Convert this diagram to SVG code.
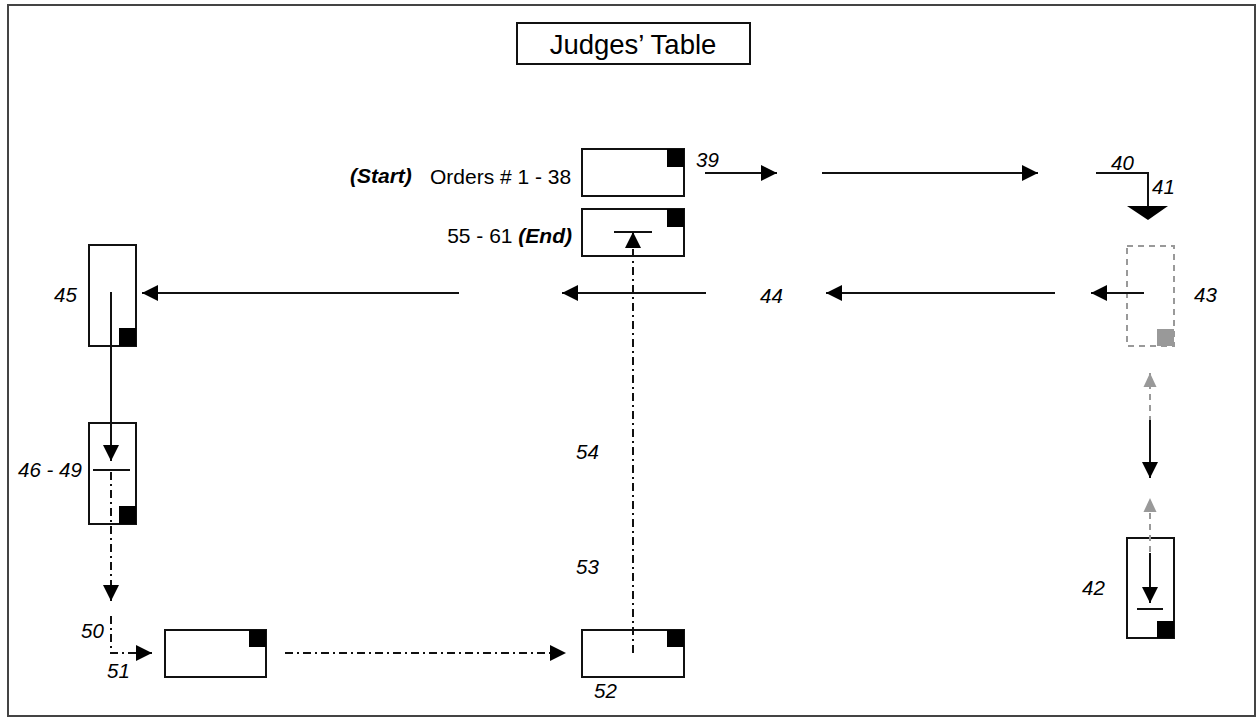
<svg xmlns="http://www.w3.org/2000/svg" width="1257" height="717" viewBox="0 0 1257 717">
<style>
text{font-family:"Liberation Sans",Arial,sans-serif;fill:#000}
.lbl{font-size:20.5px;font-style:italic}
.txt{font-size:21px}
.bi{font-weight:bold;font-style:italic}
.box{fill:#fff;stroke:#111;stroke-width:2}
.sq{fill:#000}
.ln{stroke:#111;stroke-width:2;fill:none}
.dd{stroke:#111;stroke-width:2;fill:none;stroke-dasharray:8 4 2 4}
.gd{stroke:#999;stroke-width:2;fill:none;stroke-dasharray:6 5}
</style>
<defs>
<marker id="ah" markerUnits="userSpaceOnUse" markerWidth="17" markerHeight="17" viewBox="0 0 17 17" refX="16" refY="8.5" orient="auto"><path d="M0,0.5 L16,8.5 L0,16.5 z" fill="#000"/></marker>
<marker id="ag" markerUnits="userSpaceOnUse" markerWidth="16" markerHeight="16" viewBox="0 0 16 16" refX="15" refY="8" orient="auto"><path d="M1,1.5 L15,8 L1,14.5 z" fill="#999"/></marker>
</defs>
<rect x="0" y="0" width="1257" height="717" fill="#fff"/>
<rect id="frame" x="8" y="5" width="1247" height="711" fill="none" stroke="#444" stroke-width="2"/>
<g id="title"><rect class="box" x="517" y="23" width="233" height="41"/><text x="633" y="54" font-size="27.5" text-anchor="middle">Judges’ Table</text></g>
<g id="start"><rect class="box" x="582" y="149" width="102" height="47"/><rect class="sq" x="667" y="149" width="17" height="18"/>
<text class="txt bi" x="350" y="183">(Start)</text><text class="txt" x="430" y="184">Orders # 1 - 38</text></g>
<g id="end"><rect class="box" x="582" y="209" width="102" height="47"/><rect class="sq" x="667" y="209" width="17" height="18"/>
<line class="ln" x1="614" y1="232" x2="652" y2="232"/>
<text class="txt" x="572" y="243" text-anchor="end">55 - 61 <tspan class="bi">(End)</tspan></text></g>
<g id="n43"><rect x="1127" y="246" width="47" height="100" fill="none" stroke="#999" stroke-width="2" stroke-dasharray="6 5"/><rect x="1157" y="329" width="17" height="17" fill="#999"/></g>
<g id="n42"><rect class="box" x="1127" y="538" width="47" height="100"/><rect class="sq" x="1157" y="621" width="17" height="17"/><line class="ln" x1="1137" y1="609" x2="1163" y2="609"/></g>
<g id="n45"><rect class="box" x="89" y="245" width="47" height="101"/><rect class="sq" x="119" y="328" width="17" height="18"/></g>
<g id="n46"><rect class="box" x="89" y="423" width="47" height="101"/><rect class="sq" x="119" y="506" width="17" height="18"/><line class="ln" x1="93" y1="470" x2="130" y2="470"/></g>
<g id="n51"><rect class="box" x="165" y="630" width="101" height="47"/><rect class="sq" x="249" y="630" width="17" height="17"/></g>
<g id="n52"><rect class="box" x="582" y="630" width="102" height="47"/><rect class="sq" x="667" y="630" width="17" height="17"/></g>
<g id="connectors">
<line class="ln" x1="705" y1="173" x2="777" y2="173" marker-end="url(#ah)"/>
<line class="ln" x1="822" y1="173" x2="1038" y2="173" marker-end="url(#ah)"/>
<polyline class="ln" points="1096,173 1148,173 1148,207"/>
<polygon points="1127,206 1168,206 1148,220" fill="#000"/>
<line class="ln" x1="1144" y1="293" x2="1091" y2="293" marker-end="url(#ah)"/>
<line class="ln" x1="1055" y1="293" x2="826" y2="293" marker-end="url(#ah)"/>
<line class="ln" x1="706" y1="293" x2="562" y2="293" marker-end="url(#ah)"/>
<line class="ln" x1="459" y1="293" x2="142" y2="293" marker-end="url(#ah)"/>
<line class="ln" x1="111" y1="292" x2="111" y2="461" marker-end="url(#ah)"/>
<line class="dd" x1="111" y1="472" x2="111" y2="601" marker-end="url(#ah)"/>
<path class="dd" d="M111,616 V653 H152" marker-end="url(#ah)"/>
<line class="dd" x1="285" y1="653" x2="566" y2="653" marker-end="url(#ah)"/>
<line class="dd" x1="633" y1="653" x2="633" y2="232" marker-end="url(#ah)"/>
<line class="gd" x1="1150" y1="422" x2="1150" y2="373" marker-end="url(#ag)"/>
<line class="ln" x1="1150" y1="420" x2="1150" y2="478" marker-end="url(#ah)"/>
<line class="gd" x1="1150" y1="552" x2="1150" y2="498" marker-end="url(#ag)"/>
<line class="ln" x1="1150" y1="553" x2="1150" y2="603" marker-end="url(#ah)"/>
</g>
<g id="labels">
<text class="lbl" x="696" y="167">39</text>
<text class="lbl" x="1111" y="170">40</text>
<text class="lbl" x="1152" y="194">41</text>
<text class="lbl" x="1194" y="302">43</text>
<text class="lbl" x="760" y="303">44</text>
<text class="lbl" x="54" y="302">45</text>
<text class="lbl" x="18" y="477">46 - 49</text>
<text class="lbl" x="81" y="638">50</text>
<text class="lbl" x="107" y="678">51</text>
<text class="lbl" x="594" y="698">52</text>
<text class="lbl" x="576" y="574">53</text>
<text class="lbl" x="576" y="459">54</text>
<text class="lbl" x="1082" y="595">42</text>
</g>
</svg>
